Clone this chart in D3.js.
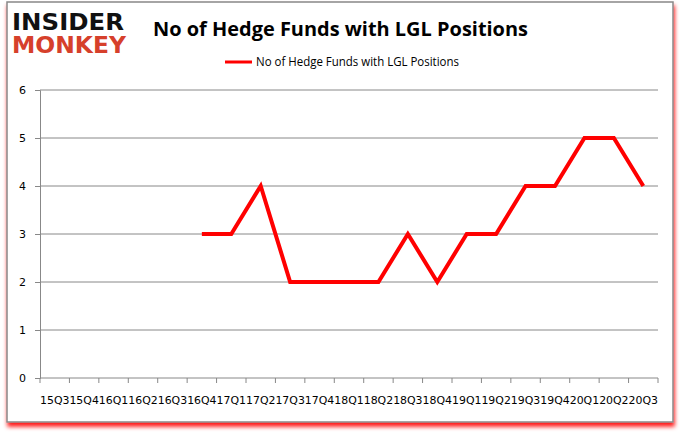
<!DOCTYPE html>
<html>
<head>
<meta charset="utf-8">
<script src="https://cdn.jsdelivr.net/npm/d3@7"></script>
<style>
  body { margin: 0; background: #fff; }
  svg { display: block; }
</style>
</head>
<body>
<svg id="chart"></svg>
<script>
// quarters on the x axis
const quarters = ["15Q3","15Q4","16Q1","16Q2","16Q3","16Q4","17Q1","17Q2","17Q3","17Q4",
                  "18Q1","18Q2","18Q3","18Q4","19Q1","19Q2","19Q3","19Q4","20Q1","20Q2","20Q3"];
// hedge fund counts, null where there is no data yet
const fundCounts = [null,null,null,null,null,3,3,4,2,2,2,2,3,2,3,3,4,4,5,5,4];
const yTicks = [0,1,2,3,4,5,6];
const seriesName = "No of Hedge Funds with LGL Positions";

const W = 680, H = 433;
const margin = { top: 90, right: 22, bottom: 55, left: 40 };
const width = W - margin.left - margin.right;
const height = H - margin.top - margin.bottom;

const svg = d3.select("#chart").attr("width", W).attr("height", H);

// frame with red shadow
const defs = svg.append("defs");
const f = defs.append("filter").attr("id", "shadow").attr("x", "-5%").attr("y", "-5%").attr("width", "110%").attr("height", "110%");
f.append("feDropShadow").attr("dx", 1).attr("dy", 4).attr("stdDeviation", 2).attr("flood-color", "#ff0000").attr("flood-opacity", 0.9);
svg.append("rect")
  .attr("x", 7).attr("y", 2).attr("width", 666).attr("height", 420)
  .attr("fill", "#fff").attr("stroke", "#888").attr("stroke-width", 1.5)
  .attr("filter", "url(#shadow)");

// logo (squashed vertically so the two words don't collide)
const logo = svg.append("g").attr("font-family", "DejaVu Sans").attr("font-weight", "bold");
logo.append("text").attr("transform", "translate(12,30) scale(1,1.25)")
  .attr("font-size", 19)
  .attr("textLength", 112).attr("lengthAdjust", "spacingAndGlyphs")
  .attr("fill", "#111").text("INSIDER");
logo.append("text").attr("transform", "translate(12,53) scale(1,1.25)")
  .attr("font-size", 19)
  .attr("textLength", 114).attr("lengthAdjust", "spacingAndGlyphs")
  .attr("fill", "#d6402b").text("MONKEY");

// title
svg.append("text").attr("x", 153).attr("y", 36)
  .attr("font-family", "Open Sans").attr("font-weight", "bold").attr("font-size", 20)
  .attr("textLength", 375).attr("lengthAdjust", "spacingAndGlyphs")
  .attr("fill", "#000").text(seriesName);

// legend
svg.append("line").attr("x1", 225).attr("x2", 252).attr("y1", 62).attr("y2", 62)
  .attr("stroke", "#ff0000").attr("stroke-width", 3);
svg.append("text").attr("x", 256).attr("y", 66)
  .attr("font-family", "Open Sans").attr("font-size", 12)
  .attr("textLength", 203).attr("lengthAdjust", "spacingAndGlyphs")
  .text(seriesName);

const main = svg.append("g").attr("transform", `translate(${margin.left},${margin.top})`);

const x = d3.scaleBand().domain(quarters).range([0, width]);
const y = d3.scaleLinear().domain([0, 6]).range([height, 0]);

// gridlines
main.selectAll(".grid").data(yTicks.filter(d => d > 0)).join("line")
  .attr("class", "grid")
  .attr("x1", 0).attr("x2", width)
  .attr("y1", d => y(d)).attr("y2", d => y(d))
  .attr("stroke", "#888").attr("stroke-width", 1);

// y axis
const yAxis = main.append("g").call(d3.axisLeft(y).tickValues(yTicks).tickFormat(d3.format("d")).tickSize(5).tickPadding(9));
yAxis.select(".domain").attr("stroke", "#888");
yAxis.selectAll(".tick line").attr("stroke", "#888");
yAxis.selectAll("text").attr("font-family", "DejaVu Sans").attr("font-size", 11).attr("fill", "#000");

// x axis: ticks at category boundaries
const xg = main.append("g").attr("transform", `translate(0,${height})`);
xg.append("line").attr("x1", 0).attr("x2", width).attr("stroke", "#888");
const bounds = quarters.map(q => x(q)).concat([width]);
xg.selectAll(".xt").data(bounds).join("line")
  .attr("x1", d => d).attr("x2", d => d).attr("y1", 0).attr("y2", 5)
  .attr("stroke", "#888");
xg.selectAll(".xl").data(quarters).join("text")
  .attr("x", d => x(d) + x.bandwidth() / 2).attr("y", 26)
  .attr("text-anchor", "middle")
  .attr("font-family", "DejaVu Sans").attr("font-size", 11)
  .attr("textLength", x.bandwidth()).attr("lengthAdjust", "spacingAndGlyphs")
  .text(d => d);

// the series line
const line = d3.line()
  .defined(d => d.v != null)
  .x(d => x(d.q) + x.bandwidth() / 2)
  .y(d => y(d.v));
main.append("path")
  .datum(quarters.map((q, i) => ({ q, v: fundCounts[i] })))
  .attr("d", line)
  .attr("fill", "none").attr("stroke", "#ff0000").attr("stroke-width", 4)
  .attr("stroke-linejoin", "miter");
</script>
</body>
</html>
